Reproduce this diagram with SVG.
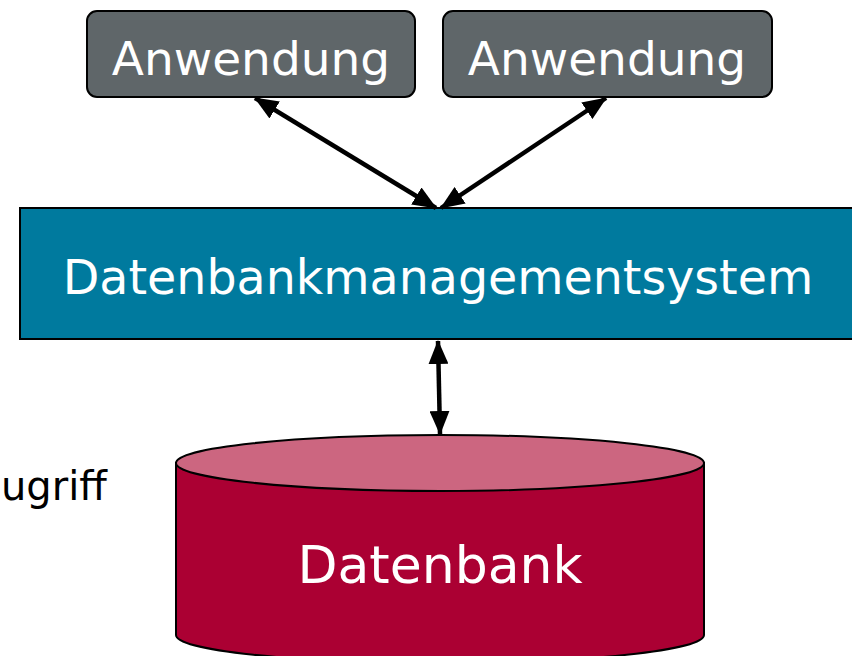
<svg xmlns="http://www.w3.org/2000/svg" width="852" height="656" viewBox="0 0 852 656">
  <style>
    .lbl { font-family: "DejaVu Sans", Verdana, sans-serif; fill: #ffffff; text-anchor: middle; }
    .app rect { fill: #5f6669; stroke: #000000; stroke-width: 2; }
    .conn { stroke: #000000; stroke-width: 4.5; fill: none; }
  </style>
  <defs>
    <marker id="head" markerUnits="userSpaceOnUse" markerWidth="24" markerHeight="20" refX="23" refY="10" orient="auto-start-reverse" viewBox="0 0 24 20">
      <path d="M0,0 L24,10 L0,20 Z" fill="#000000"/>
    </marker>
  </defs>

  <rect width="852" height="656" fill="#ffffff"/>

  <!-- side label, partly cut by the page edge -->
  <text x="1" y="500" font-family="'DejaVu Sans', Verdana, sans-serif" font-size="40" fill="#000000">ugriff</text>

  <!-- applications -->
  <g id="app1" class="app">
    <rect x="87" y="11" width="328" height="86" rx="10"/>
    <text class="lbl" x="251" y="75" font-size="47">Anwendung</text>
  </g>
  <g id="app2" class="app">
    <rect x="443" y="11" width="329" height="86" rx="10"/>
    <text class="lbl" x="607" y="75" font-size="47">Anwendung</text>
  </g>

  <!-- database management system -->
  <g id="dbms">
    <rect x="20" y="208" width="850" height="131" fill="#007a9e" stroke="#000000" stroke-width="2"/>
    <text class="lbl" x="438" y="294" font-size="47.5">Datenbankmanagementsystem</text>
  </g>

  <!-- database cylinder -->
  <g id="db">
    <path d="M176,463 L176,635 A264,28 0 0 0 704,635 L704,463 Z" fill="#ab0033" stroke="#000000" stroke-width="2"/>
    <ellipse cx="440" cy="463" rx="264" ry="28" fill="#cc6680" stroke="#000000" stroke-width="2"/>
    <text class="lbl" x="440" y="583" font-size="52">Datenbank</text>
  </g>

  <!-- connectors -->
  <g id="connectors">
    <line class="conn" x1="255" y1="98" x2="436" y2="208" marker-start="url(#head)" marker-end="url(#head)"/>
    <line class="conn" x1="606" y1="98" x2="441" y2="208" marker-start="url(#head)" marker-end="url(#head)"/>
    <line class="conn" x1="438" y1="341" x2="440" y2="434" marker-start="url(#head)" marker-end="url(#head)"/>
  </g>
</svg>
